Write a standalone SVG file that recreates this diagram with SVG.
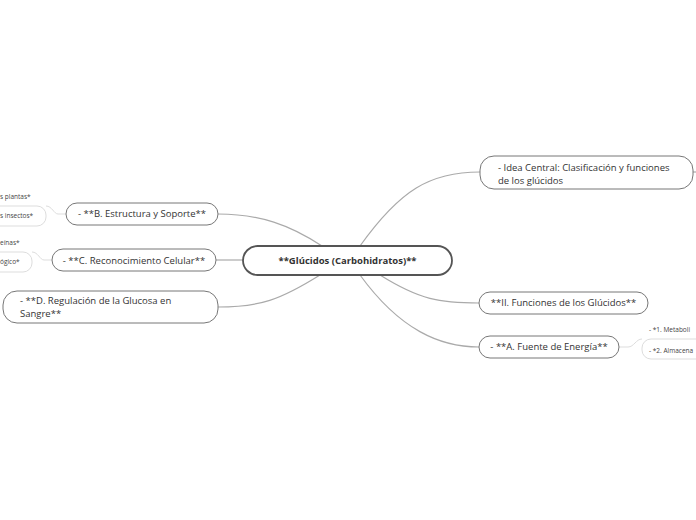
<svg xmlns="http://www.w3.org/2000/svg" width="696" height="520" viewBox="0 0 696 520">
<style>
.n{fill:#fff;stroke:#777;stroke-width:1}
.c{fill:none;stroke:#aaa;stroke-width:1.2}
.l{fill:none;stroke:#ddd;stroke-width:1}
.t{font-family:"Open Sans",sans-serif;font-size:9.5px;fill:#333}
.s{font-family:"Open Sans",sans-serif;font-size:6.5px;fill:#444}
</style>
<rect width="696" height="520" fill="#fff"/>
<g id="connectors">
<path class="c" d="M360 246 C400 190,430 172,480 172"/>
<path class="c" d="M693 172 L696 172"/>
<path class="c" d="M322 246 C290 225,260 214,218 214"/>
<path class="c" d="M243 260 L216 260"/>
<path class="c" d="M320 275 C280 300,260 307,218 307"/>
<path class="c" d="M380 275 C420 300,440 303,479 303"/>
<path class="c" d="M360 275 C400 330,440 347,479 347"/>
<path class="l" d="M66 214 L58 214 C54 214,52 206,46 206"/>
<path class="l" d="M52 260 L44 260 C40 260,38 252,32 252"/>
<path class="l" d="M619 347 L628 347 C634 347,636 339,642 339"/>
</g>
<g id="central"><rect x="243" y="246" width="209" height="29" rx="14.5" fill="#fff" stroke="#555" stroke-width="1.8"/><text class="t" x="347.5" y="264" text-anchor="middle" font-weight="bold" font-size="10.5px">**Glúcidos (Carbohidratos)**</text></g>
<g id="idea"><rect class="n" x="480" y="156" width="213" height="33" rx="14"/><text class="t" x="498" y="171">- Idea Central: Clasificación y funciones</text><text class="t" x="498" y="184">de los glúcidos</text></g>
<g id="b"><rect class="n" x="66" y="203" width="152" height="22" rx="11"/><text class="t" x="142" y="217" text-anchor="middle">- **B. Estructura y Soporte**</text></g>
<g id="c"><rect class="n" x="52" y="249" width="164" height="22" rx="11"/><text class="t" x="134" y="264" text-anchor="middle">- **C. Reconocimiento Celular**</text></g>
<g id="d"><rect class="n" x="3" y="291" width="215" height="32" rx="14"/><text class="t" x="20" y="304">- **D. Regulación de la Glucosa en</text><text class="t" x="20" y="317">Sangre**</text></g>
<g id="ii"><rect class="n" x="479" y="292" width="169" height="22" rx="11"/><text class="t" x="563.5" y="306" text-anchor="middle">**II. Funciones de los Glúcidos**</text></g>
<g id="a"><rect class="n" x="479" y="336" width="140" height="22" rx="11"/><text class="t" x="549" y="350" text-anchor="middle">- **A. Fuente de Energía**</text></g>
<g id="leafB1"><text class="s" x="0" y="199">s plantas*</text></g>
<g id="leafB2"><rect class="l" x="-20" y="206" width="66" height="20" rx="9"/><text class="s" x="0" y="218">s insectos*</text></g>
<g id="leafC1"><text class="s" x="0" y="245">eínas*</text></g>
<g id="leafC2"><rect class="l" x="-20" y="252" width="52" height="20" rx="9"/><text class="s" x="0" y="264">ógico*</text></g>
<g id="leafA1"><text class="s" x="649" y="332">- *1. Metaboli</text></g>
<g id="leafA2"><rect class="l" x="642" y="339" width="70" height="20" rx="9"/><text class="s" x="649" y="353">- *2. Almacena</text></g>
</svg>
